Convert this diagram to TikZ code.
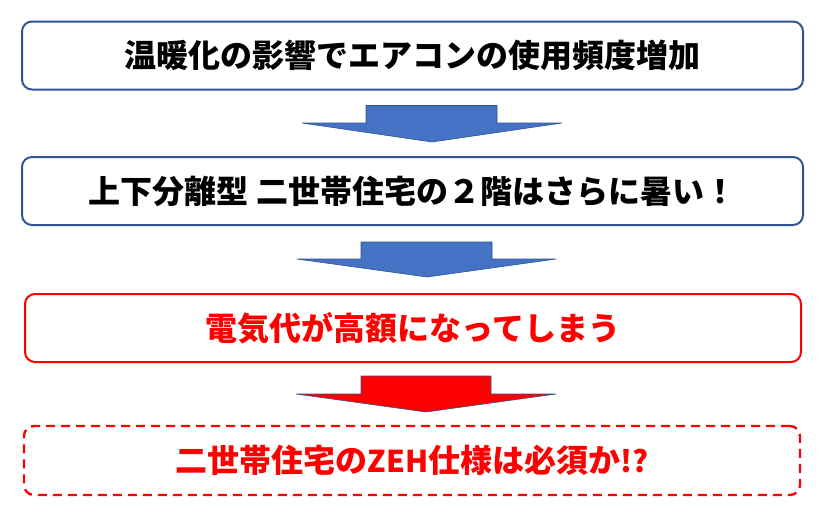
\documentclass[tikz,border=0pt]{standalone}
\usepackage{fontspec}
\setmainfont{Noto Sans CJK JP}

\definecolor{boxblue}{HTML}{2F5597}
\definecolor{arrowblue}{HTML}{4472C4}
\definecolor{arrowline}{HTML}{2F528F}
\definecolor{alertred}{HTML}{FF0000}

\tikzset{
  stepbox/.style={draw=boxblue, line width=2pt, rounded corners=10pt,
    minimum height=68pt, inner sep=0pt,
    font=\fontsize{32}{38}\selectfont\bfseries},
  alertbox/.style={stepbox, draw=alertred, text=alertred},
  downarrow/.style={fill=arrowblue, draw=arrowline, line width=0.6pt},
}

\begin{document}
\begin{tikzpicture}[x=1pt, y=-1pt]
  \useasboundingbox (0,0) rectangle (828,515);

  \node[stepbox, minimum width=781pt] (warming) at (412.5,55.5) {温暖化の影響でエアコンの使用頻度増加};
  \node[stepbox, minimum width=781pt] (upstairs) at (412.5,191) {上下分離型 二世帯住宅の２階はさらに暑い！};
  \node[alertbox, minimum width=776pt] (cost) at (413,328) {電気代が高額になってしまう};
  \node[alertbox, dashed, dash pattern=on 9pt off 6pt, line width=2.4pt,
        minimum width=776pt, minimum height=69pt] (zeh) at (412,460.5) {二世帯住宅の{\fontsize{30}{36}\selectfont ZEH}仕様は必須か{\fontsize{30}{36}\selectfont !?}};

  % block arrows between the boxes
  \draw[downarrow] (366,105.5) -- (497,105.5) -- (497,123) -- (562,123) -- (432,142)
    -- (302,123) -- (366,123) -- cycle;
  \draw[downarrow] (361,242) -- (492,242) -- (492,259) -- (556,259) -- (427,277)
    -- (297,259) -- (361,259) -- cycle;
  \draw[downarrow, fill=alertred] (361,376) -- (491,376) -- (491,394) -- (556,394) -- (426,412)
    -- (296,394) -- (361,394) -- cycle;
\end{tikzpicture}
\end{document}
